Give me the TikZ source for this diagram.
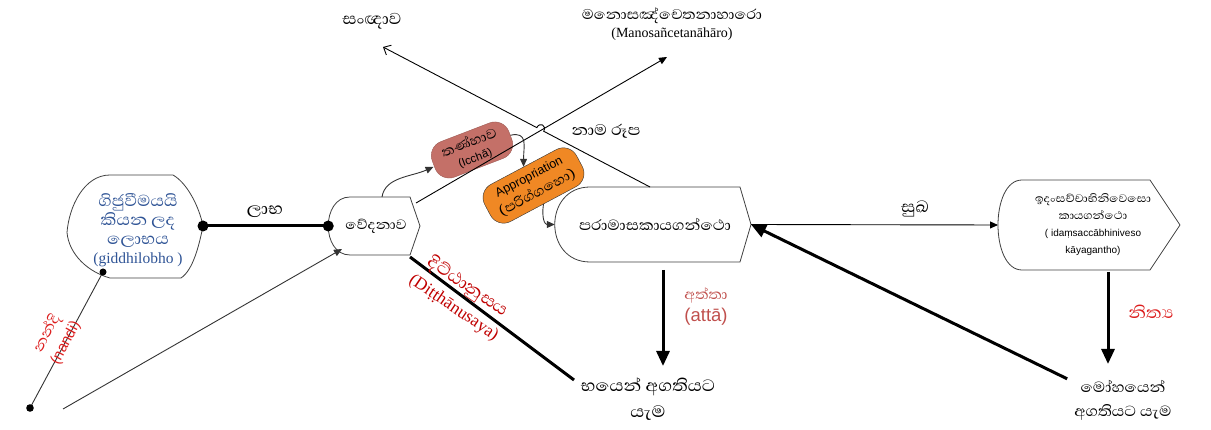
\documentclass[tikz,border=0pt]{standalone}
\usepackage{fontspec}
\setmainfont{Liberation Serif}
\setsansfont{Liberation Sans}
\newfontfamily\sifont[Script=Sinhala,Scale=1.5,FakeStretch=1.1]{Abhaya Libre}
\usetikzlibrary{arrows.meta,calc}

\definecolor{labelblue}{RGB}{47,84,150}
\definecolor{deepred}{RGB}{192,0,0}
\definecolor{brightred}{RGB}{220,30,30}
\definecolor{softred}{RGB}{192,80,77}
\definecolor{tanhafill}{RGB}{196,112,104}
\definecolor{apprfill}{RGB}{240,136,36}

\tikzset{
  frame/.style={draw=none,shape=rectangle,inner sep=0pt,outer sep=0pt},
  outline/.style={draw=black!75,line width=0.8pt,fill=white},
  thinline/.style={line width=0.9pt},
  heavy/.style={line width=3pt},
  tip/.style={-{Triangle[length=8pt,width=7pt]}},
  opentip/.style={-{Straight Barb[length=6pt,width=11pt]}},
  bigtip/.style={-{Triangle[length=15pt,width=13pt]}},
  lbl/.style={align=center,inner sep=1pt},
  pill/.style={draw,rounded corners=15pt,align=center,inner sep=2pt},
}
\newcommand\sz[2]{\fontsize{#1}{#2}\selectfont}

% frame outline: flat top and bottom, rounded left, pointed right
\newcommand\frameoutline[3]{%
  \coordinate (#1-tip) at ($(#1.east)+(#3,0)$);
  \coordinate (#1-left) at ($(#1.west)+({-0.75*#2},0)$);
  \draw[outline] (#1.north west) -- (#1.north east) -- (#1-tip) -- (#1.south east)
    -- (#1.south west) .. controls ($(#1.south west)+(-#2,0)$) and ($(#1.north west)+(-#2,0)$) .. (#1.north west) -- cycle;
}

\begin{document}
\begin{tikzpicture}[x=1pt,y=-1pt]
\useasboundingbox (0,0) rectangle (1211,430);

% ---- frames ----
% shield-like frame on the left
\node[frame,minimum width=63,minimum height=103] (gid) at (141.5,226.5) {};
\coordinate (gid-tip) at ($(gid.east)+(30,-0.5)$);
\coordinate (gid-left) at ($(gid.west)+(-43,6)$);
\draw[outline] (gid.north west) -- (gid.north east)
  .. controls +(14,8) and +(-4,-20) .. (gid-tip)
  .. controls +(-4,20) and +(12,-8) .. ($(gid.south east)+(8,0)$) -- (gid.south west)
  .. controls +(-22,-6) and +(2,22) .. (gid-left)
  .. controls +(2,-26) and +(-26,0) .. (gid.north west) -- cycle;
\node[frame,minimum width=60,minimum height=58] (ved) at (380,226) {};
\frameoutline{ved}{29}{10}
\node[frame,minimum width=150,minimum height=75] (par) at (665,224.5) {};
\frameoutline{par}{47}{11}
\node[frame,minimum width=128,minimum height=90] (idam) at (1086,225) {};
\frameoutline{idam}{32}{30}

% ---- frame texts ----
\node[lbl,inner sep=0pt,text=labelblue,font=\sifont\sz{13.5}{19}] (gidtext) at (138,230)
  {ගිජුවීමයයි\\කියන ලද\\ලොභය\\{\rmfamily\sz{15.5}{19}(giddhilobho )}};
\node[lbl,font=\sifont\sz{11.5}{15}] (vedtext) at (376,226) {වේදනාව};
\node[lbl,font=\sifont\sz{12.5}{15}] (partext) at (655,224) {පරාමාසකායගන්ථො};
\node[lbl,inner sep=0pt,font=\sifont\sz{9.3}{17}] (idamtext) at (1093,225)
  {ඉදංසච්චාභිනිවෙසො\\කායගන්ථො\\{\sffamily\sz{10}{17}( idaṃsaccābhiniveso}\\{\sffamily\sz{10}{17}kāyagantho)}};

% ---- free texts ----
\node[lbl,font=\sifont\sz{14}{26}] (bhaya) at (648,399) {භයෙන් අගතියට\\යැම};
\node[lbl,font=\sifont\sz{12.5}{24}] (moha) at (1123,400) {මෝහයෙන්\\අගතියට යැම};
\node[lbl,font=\sifont\sz{13.5}{18}] (sanna) at (372,21) {සංඥාව};
\node[lbl,font=\sifont\sz{12}{18}] (manos) at (672,24) {මනොසඤ්චෙතනාහාරො\\{\rmfamily\sz{14}{18}(Manosañcetanāhāro)}};
\node[lbl,font=\sifont\sz{14}{18}] (labha) at (265,212) {ලාභ};
\node[lbl,font=\sifont\sz{13.5}{18}] (sukha) at (915,209) {සුඛ};
\node[lbl,font=\sifont\sz{13}{18}] (namarupa) at (606,131) {නාම රූප};

% ---- rotated pills ----
\node[pill,fill=tanhafill,draw=tanhafill!80!black,rotate=21,minimum width=82,minimum height=38,
      font=\sifont\sz{11.5}{16}] (tanha) at (472,150)
  {තණ්හාව\\{\sffamily\sz{11.5}{16}(Icchā)}};
\node[pill,fill=apprfill,draw=black!80,rotate=28,minimum width=104,minimum height=42,
      font=\sffamily\sz{12.5}{18}] (appr) at (533.5,185.5)
  {Appropriation\\{\sifont\sz{11.5}{18}(පරිග්ගහො)}};

% ---- coordinates for free ends ----
\coordinate (nandifoot) at (103,272);
\coordinate (nandiend) at (30,408);
\coordinate (sensestart) at (63,409);
\coordinate (vedin) at (342,249);
\coordinate (vedtop) at (382,197);
\coordinate (vedcorner) at (416,203);
\coordinate (manosend) at (667,57);
\coordinate (partop) at (650,187);
\coordinate (sannaend) at (383,47);
\coordinate (vedlow) at (410,257);
\coordinate (ditthiend) at (574,380);

% ---- connectors ----
\draw[heavy] (gid-tip) -- (ved-left);
\fill (gid-tip) circle (5.5);
\fill (ved-left) circle (5.5);

\draw[thinline,black!80] (nandifoot) -- (nandiend);
\fill (nandifoot) circle (3.5);
\fill (nandiend) circle (3.8);

\draw[thinline,black!80,tip] (sensestart) -- (vedin);

\draw[thinline,black!80,tip] (vedtop) .. controls +(3,-20) and +(-22,10) .. ($(tanha.west)+(0,2)$);
\draw[thinline,black!80,tip] (tanha.east) .. controls +(18,-4) and +(0,-20) .. (appr.north);
\draw[thinline,black!80,tip] (appr.south) .. controls +(-2,14) and +(-10,0) .. (par-left);

\draw[thinline,tip] (vedcorner) -- (manosend);
\draw[thinline,opentip] (partop) -- ($(partop)!0.398!(sannaend)$)
  .. controls +(3,-6) and +(3,-6) .. ($(partop)!0.424!(sannaend)$) -- (sannaend);

\draw[thinline,tip] (par-tip) -- (idam-left);

\draw[heavy,bigtip] ($(par.south)+(-2,8)$) -- ($(par.south)+(-2,104)$);
\draw[heavy,bigtip] ($(idam.south)+(22,2)$) -- ($(idam.south)+(22,94)$);
\draw[heavy] (vedlow) -- (ditthiend);
\draw[heavy,bigtip] ($(moha.north west)+(-6,0)$) -- (par-tip);

% ---- red labels ----
\node[lbl,inner sep=0pt,text=brightred,rotate=62,font=\sifont\sz{12.5}{21}] (nandi) at (56,338)
  {නන්දි\\{\sffamily\sz{15}{21}(nandi)}};
\node[lbl,inner sep=0pt,text=deepred,rotate=-34,font=\sifont\sz{14.5}{25}] (ditthi) at (461,297)
  {දිට්ඨානුසය\\{\rmfamily\sz{17.5}{25}(Diṭṭhānusaya)}};
\node[lbl,inner sep=0pt,text=softred,font=\sifont\sz{12}{22}] (atta) at (706,307)
  {අත්තා\\{\sffamily\sz{18.5}{22}(attā)}};
\node[lbl,inner sep=0pt,text=brightred,font=\sifont\sz{14}{17}] (nitya) at (1151,312) {නිත්‍ය};
\end{tikzpicture}
\end{document}
